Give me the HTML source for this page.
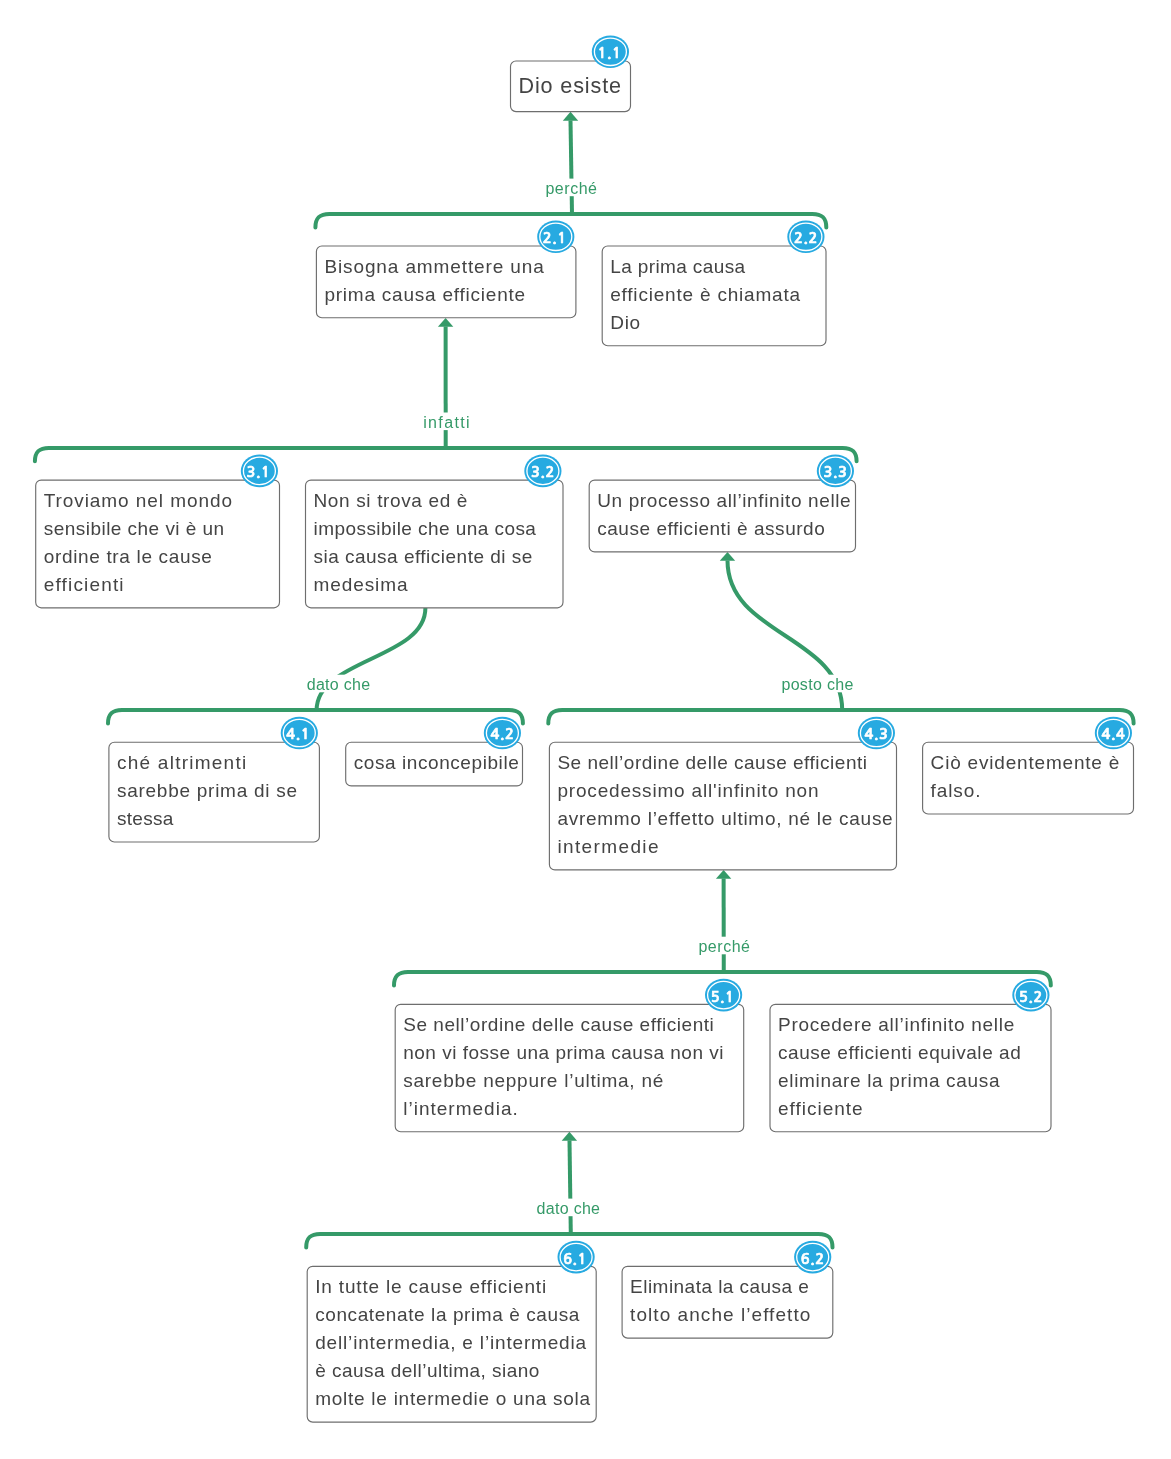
<!DOCTYPE html>
<html lang="it"><head><meta charset="utf-8"><title>Dio esiste</title>
<style>
html,body{margin:0;padding:0;background:#fff}
svg{display:block;will-change:transform}
text{font-family:"Liberation Sans",sans-serif}
.t{font-size:19px;fill:#444444}
.t1{font-size:21.6px;fill:#444444}
.l{font-size:16px;fill:#359a68}
.b{font-family:"NanumGothic","Liberation Sans",sans-serif;font-size:14.6px;font-weight:bold;fill:#fff;stroke:#fff;stroke-width:0.65px;text-anchor:middle;letter-spacing:0.6px}
.bx{fill:#fff;stroke:#6e6e6e;stroke-width:1.15}
.g{fill:none;stroke:#359a68;stroke-width:4;stroke-linecap:round}
.s{fill:none;stroke:#359a68;stroke-width:4}
</style></head><body>
<svg width="1171" height="1459" viewBox="0 0 1171 1459">
<rect width="1171" height="1459" fill="#fff"/>

<path class="g" d="M315.4,227.4 C315.4,218.0 319.4,214.0 329.4,214.0 L812.3,214.0 C822.3,214.0 826.3,218.0 826.3,227.4"/>
<path class="s" d="M572,214 L570.5,120.5"/>
<path fill="#359a68" d="M570.5,111.8 l7.7,8.9 h-15.4 z"/>
<rect x="544.4" y="178.6" width="53.6" height="17.6" fill="#fff"/>
<text class="l" x="545.4" y="193.6" textLength="51.6" lengthAdjust="spacing">perché</text>
<path class="g" d="M34.9,461.3 C34.9,451.9 38.9,447.9 48.9,447.9 L842.6,447.9 C852.6,447.9 856.6,451.9 856.6,461.3"/>
<path class="s" d="M445.7,448 L445.6,326.5"/>
<path fill="#359a68" d="M445.6,317.90000000000003 l7.7,8.9 h-15.4 z"/>
<rect x="422.2" y="412.5" width="48.4" height="17.6" fill="#fff"/>
<text class="l" x="423.2" y="427.5" textLength="46.4" lengthAdjust="spacing">infatti</text>
<path class="g" d="M108.0,723.5 C108.0,714.1 112.0,710.1 122.0,710.1 L508.9,710.1 C518.9,710.1 522.9,714.1 522.9,723.5"/>
<path class="s" d="M316.6,710.1 C316.6,659 425.4,659 425.4,608"/>
<rect x="305.7" y="674.7" width="65.4" height="17.6" fill="#fff"/>
<text class="l" x="306.7" y="689.7" textLength="63.4" lengthAdjust="spacing">dato che</text>
<path class="g" d="M548.3,723.5 C548.3,714.1 552.3,710.1 562.3,710.1 L1119.6,710.1 C1129.6,710.1 1133.6,714.1 1133.6,723.5"/>
<path class="s" d="M842.2,710.1 C842.2,635.5 727.5,635.5 727.5,560.5"/>
<path fill="#359a68" d="M727.5,551.9 l7.7,8.9 h-15.4 z"/>
<rect x="780.4" y="674.7" width="74.0" height="17.6" fill="#fff"/>
<text class="l" x="781.4" y="689.7" textLength="72.0" lengthAdjust="spacing">posto che</text>
<path class="g" d="M394.0,985.5 C394.0,976.1 398.0,972.1 408.0,972.1 L1036.8,972.1 C1046.8,972.1 1050.8,976.1 1050.8,985.5"/>
<path class="s" d="M723.8,972 L723.6,878.5"/>
<path fill="#359a68" d="M723.6,869.9 l7.7,8.9 h-15.4 z"/>
<rect x="697.4" y="936.7" width="53.6" height="17.6" fill="#fff"/>
<text class="l" x="698.4" y="951.7" textLength="51.6" lengthAdjust="spacing">perché</text>
<path class="g" d="M306.2,1247.4 C306.2,1238.0 310.2,1234.0 320.2,1234.0 L818.5,1234.0 C828.5,1234.0 832.5,1238.0 832.5,1247.4"/>
<path class="s" d="M570.8,1234 L569.5,1140.5"/>
<path fill="#359a68" d="M569.4,1131.8 l7.7,8.9 h-15.4 z"/>
<rect x="535.6" y="1198.6" width="65.4" height="17.6" fill="#fff"/>
<text class="l" x="536.6" y="1213.6" textLength="63.4" lengthAdjust="spacing">dato che</text>
<rect class="bx" x="510.5" y="61.0" width="120.0" height="50.6" rx="5.5"/>
<text class="t1" x="518.5" y="92.7" textLength="102.5" lengthAdjust="spacing">Dio esiste</text>
<ellipse cx="610.4" cy="51.8" rx="18.6" ry="16.3" fill="#27aae1"/>
<ellipse cx="610.4" cy="51.8" rx="16" ry="13.7" fill="none" stroke="#fff" stroke-width="1.3"/>
<text class="b" x="609.4" y="58.2">1.1</text>
<rect class="bx" x="316.4" y="246.0" width="259.5" height="71.7" rx="5.5"/>
<text class="t" x="324.4" y="273.0" textLength="219.4" lengthAdjust="spacing">Bisogna ammettere una</text>
<text class="t" x="324.4" y="301.0" textLength="200.8" lengthAdjust="spacing">prima causa efficiente</text>
<ellipse cx="555.8" cy="236.8" rx="18.6" ry="16.3" fill="#27aae1"/>
<ellipse cx="555.8" cy="236.8" rx="16" ry="13.7" fill="none" stroke="#fff" stroke-width="1.3"/>
<text class="b" x="554.8" y="243.2">2.1</text>
<rect class="bx" x="602.2" y="246.0" width="223.8" height="99.7" rx="5.5"/>
<text class="t" x="610.2" y="273.0" textLength="134.9" lengthAdjust="spacing">La prima causa</text>
<text class="t" x="610.2" y="301.0" textLength="189.9" lengthAdjust="spacing">efficiente è chiamata</text>
<text class="t" x="610.2" y="329.0" textLength="30.0" lengthAdjust="spacing">Dio</text>
<ellipse cx="805.9" cy="236.8" rx="18.6" ry="16.3" fill="#27aae1"/>
<ellipse cx="805.9" cy="236.8" rx="16" ry="13.7" fill="none" stroke="#fff" stroke-width="1.3"/>
<text class="b" x="805.9" y="243.2">2.2</text>
<rect class="bx" x="35.7" y="480.1" width="243.8" height="127.7" rx="5.5"/>
<text class="t" x="43.7" y="507.1" textLength="188.3" lengthAdjust="spacing">Troviamo nel mondo</text>
<text class="t" x="43.7" y="535.1" textLength="180.5" lengthAdjust="spacing">sensibile che vi è un</text>
<text class="t" x="43.7" y="563.1" textLength="168.2" lengthAdjust="spacing">ordine tra le cause</text>
<text class="t" x="43.7" y="591.1" textLength="79.9" lengthAdjust="spacing">efficienti</text>
<ellipse cx="259.4" cy="470.9" rx="18.6" ry="16.3" fill="#27aae1"/>
<ellipse cx="259.4" cy="470.9" rx="16" ry="13.7" fill="none" stroke="#fff" stroke-width="1.3"/>
<text class="b" x="258.4" y="477.3">3.1</text>
<rect class="bx" x="305.5" y="480.1" width="257.5" height="127.7" rx="5.5"/>
<text class="t" x="313.5" y="507.1" textLength="153.9" lengthAdjust="spacing">Non si trova ed è</text>
<text class="t" x="313.5" y="535.1" textLength="222.4" lengthAdjust="spacing">impossibile che una cosa</text>
<text class="t" x="313.5" y="563.1" textLength="218.8" lengthAdjust="spacing">sia causa efficiente di se</text>
<text class="t" x="313.5" y="591.1" textLength="94.0" lengthAdjust="spacing">medesima</text>
<ellipse cx="542.9" cy="470.9" rx="18.6" ry="16.3" fill="#27aae1"/>
<ellipse cx="542.9" cy="470.9" rx="16" ry="13.7" fill="none" stroke="#fff" stroke-width="1.3"/>
<text class="b" x="542.9" y="477.3">3.2</text>
<rect class="bx" x="589.2" y="480.1" width="266.3" height="71.8" rx="5.5"/>
<text class="t" x="597.2" y="507.1" textLength="253.5" lengthAdjust="spacing">Un processo all’infinito nelle</text>
<text class="t" x="597.2" y="535.1" textLength="227.6" lengthAdjust="spacing">cause efficienti è assurdo</text>
<ellipse cx="835.4" cy="470.9" rx="18.6" ry="16.3" fill="#27aae1"/>
<ellipse cx="835.4" cy="470.9" rx="16" ry="13.7" fill="none" stroke="#fff" stroke-width="1.3"/>
<text class="b" x="835.4" y="477.3">3.3</text>
<rect class="bx" x="108.9" y="742.2" width="210.5" height="99.8" rx="5.5"/>
<text class="t" x="116.9" y="769.2" textLength="129.3" lengthAdjust="spacing">ché altrimenti</text>
<text class="t" x="116.9" y="797.2" textLength="180.2" lengthAdjust="spacing">sarebbe prima di se</text>
<text class="t" x="116.9" y="825.2" textLength="56.4" lengthAdjust="spacing">stessa</text>
<ellipse cx="299.3" cy="733.0" rx="18.6" ry="16.3" fill="#27aae1"/>
<ellipse cx="299.3" cy="733.0" rx="16" ry="13.7" fill="none" stroke="#fff" stroke-width="1.3"/>
<text class="b" x="298.3" y="739.4">4.1</text>
<rect class="bx" x="345.7" y="742.2" width="176.8" height="43.7" rx="5.5"/>
<text class="t" x="353.7" y="769.2" textLength="165.1" lengthAdjust="spacing">cosa inconcepibile</text>
<ellipse cx="502.4" cy="733.0" rx="18.6" ry="16.3" fill="#27aae1"/>
<ellipse cx="502.4" cy="733.0" rx="16" ry="13.7" fill="none" stroke="#fff" stroke-width="1.3"/>
<text class="b" x="502.4" y="739.4">4.2</text>
<rect class="bx" x="549.4" y="742.2" width="347.1" height="127.7" rx="5.5"/>
<text class="t" x="557.4" y="769.2" textLength="309.6" lengthAdjust="spacing">Se nell’ordine delle cause efficienti</text>
<text class="t" x="557.4" y="797.2" textLength="261.1" lengthAdjust="spacing">procedessimo all&#x27;infinito non</text>
<text class="t" x="557.4" y="825.2" textLength="335.3" lengthAdjust="spacing">avremmo l’effetto ultimo, né le cause</text>
<text class="t" x="557.4" y="853.2" textLength="101.1" lengthAdjust="spacing">intermedie</text>
<ellipse cx="876.4" cy="733.0" rx="18.6" ry="16.3" fill="#27aae1"/>
<ellipse cx="876.4" cy="733.0" rx="16" ry="13.7" fill="none" stroke="#fff" stroke-width="1.3"/>
<text class="b" x="876.4" y="739.4">4.3</text>
<rect class="bx" x="922.6" y="742.2" width="210.9" height="71.8" rx="5.5"/>
<text class="t" x="930.6" y="769.2" textLength="188.8" lengthAdjust="spacing">Ciò evidentemente è</text>
<text class="t" x="930.6" y="797.2" textLength="49.9" lengthAdjust="spacing">falso.</text>
<ellipse cx="1113.4" cy="733.0" rx="18.6" ry="16.3" fill="#27aae1"/>
<ellipse cx="1113.4" cy="733.0" rx="16" ry="13.7" fill="none" stroke="#fff" stroke-width="1.3"/>
<text class="b" x="1113.4" y="739.4">4.4</text>
<rect class="bx" x="395.2" y="1004.3" width="348.5" height="127.4" rx="5.5"/>
<text class="t" x="403.2" y="1031.3" textLength="310.6" lengthAdjust="spacing">Se nell’ordine delle cause efficienti</text>
<text class="t" x="403.2" y="1059.3" textLength="320.3" lengthAdjust="spacing">non vi fosse una prima causa non vi</text>
<text class="t" x="403.2" y="1087.3" textLength="260.1" lengthAdjust="spacing">sarebbe neppure l’ultima, né</text>
<text class="t" x="403.2" y="1115.3" textLength="114.6" lengthAdjust="spacing">l’intermedia.</text>
<ellipse cx="723.6" cy="995.1" rx="18.6" ry="16.3" fill="#27aae1"/>
<ellipse cx="723.6" cy="995.1" rx="16" ry="13.7" fill="none" stroke="#fff" stroke-width="1.3"/>
<text class="b" x="722.6" y="1001.5">5.1</text>
<rect class="bx" x="770.0" y="1004.3" width="281.0" height="127.4" rx="5.5"/>
<text class="t" x="778.0" y="1031.3" textLength="236.3" lengthAdjust="spacing">Procedere all’infinito nelle</text>
<text class="t" x="778.0" y="1059.3" textLength="242.8" lengthAdjust="spacing">cause efficienti equivale ad</text>
<text class="t" x="778.0" y="1087.3" textLength="221.5" lengthAdjust="spacing">eliminare la prima causa</text>
<text class="t" x="778.0" y="1115.3" textLength="84.7" lengthAdjust="spacing">efficiente</text>
<ellipse cx="1030.9" cy="995.1" rx="18.6" ry="16.3" fill="#27aae1"/>
<ellipse cx="1030.9" cy="995.1" rx="16" ry="13.7" fill="none" stroke="#fff" stroke-width="1.3"/>
<text class="b" x="1030.9" y="1001.5">5.2</text>
<rect class="bx" x="307.2" y="1266.3" width="289.0" height="155.8" rx="5.5"/>
<text class="t" x="315.2" y="1293.3" textLength="231.0" lengthAdjust="spacing">In tutte le cause efficienti</text>
<text class="t" x="315.2" y="1321.3" textLength="264.1" lengthAdjust="spacing">concatenate la prima è causa</text>
<text class="t" x="315.2" y="1349.3" textLength="270.9" lengthAdjust="spacing">dell’intermedia, e l’intermedia</text>
<text class="t" x="315.2" y="1377.3" textLength="224.1" lengthAdjust="spacing">è causa dell’ultima, siano</text>
<text class="t" x="315.2" y="1405.3" textLength="274.9" lengthAdjust="spacing">molte le intermedie o una sola</text>
<ellipse cx="576.1" cy="1257.1" rx="18.6" ry="16.3" fill="#27aae1"/>
<ellipse cx="576.1" cy="1257.1" rx="16" ry="13.7" fill="none" stroke="#fff" stroke-width="1.3"/>
<text class="b" x="575.1" y="1263.5">6.1</text>
<rect class="bx" x="622.1" y="1266.3" width="210.7" height="71.8" rx="5.5"/>
<text class="t" x="630.1" y="1293.3" textLength="178.8" lengthAdjust="spacing">Eliminata la causa e</text>
<text class="t" x="630.1" y="1321.3" textLength="180.2" lengthAdjust="spacing">tolto anche l’effetto</text>
<ellipse cx="812.7" cy="1257.1" rx="18.6" ry="16.3" fill="#27aae1"/>
<ellipse cx="812.7" cy="1257.1" rx="16" ry="13.7" fill="none" stroke="#fff" stroke-width="1.3"/>
<text class="b" x="812.7" y="1263.5">6.2</text>
</svg></body></html>
